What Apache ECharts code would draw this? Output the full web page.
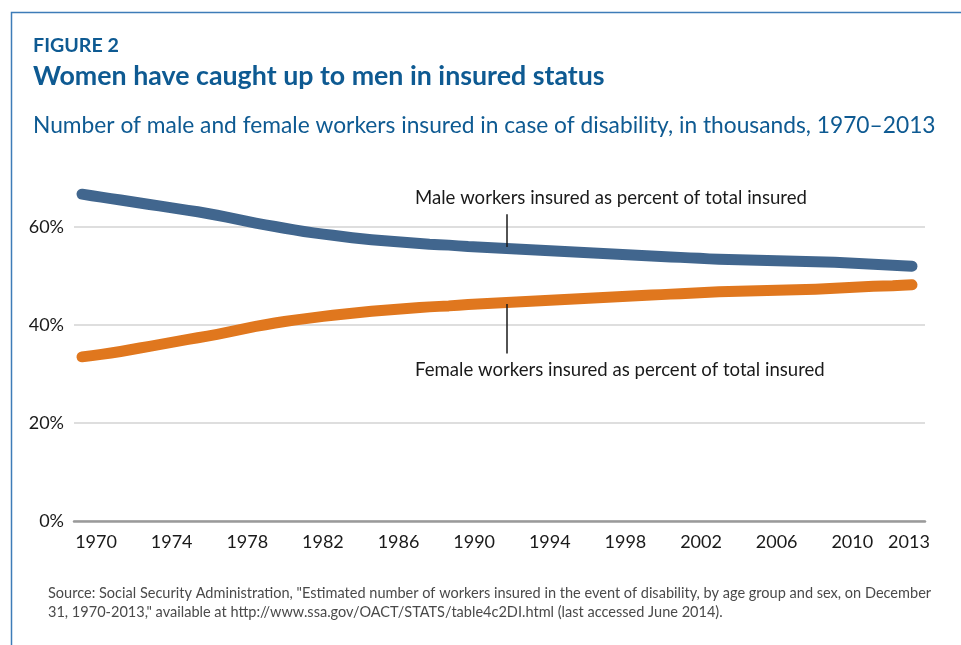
<!DOCTYPE html>
<html>
<head>
<meta charset="utf-8">
<style>
html,body{margin:0;padding:0;background:#fff;}
#chart{width:961px;height:645px;}
</style>
<script src="https://cdn.jsdelivr.net/npm/echarts@6/dist/echarts.min.js"></script>
</head>
<body>
<div id="chart"></div>
<script>
// ---- data ----
const years = [1970,1971,1972,1973,1974,1975,1976,1977,1978,1979,
               1980,1981,1982,1983,1984,1985,1986,1987,1988,1989,
               1990,1991,1992,1993,1994,1995,1996,1997,1998,1999,
               2000,2001,2002,2003,2004,2005,2006,2007,2008,2009,
               2010,2011,2012,2013];
const malePct = [66.7,66.1,65.5,64.9,64.3,63.7,63.1,62.4,61.6,60.8,
                 60.1,59.4,58.8,58.3,57.8,57.4,57.1,56.8,56.5,56.3,
                 56.0,55.8,55.6,55.4,55.2,55.0,54.8,54.6,54.4,54.2,
                 54.0,53.8,53.6,53.4,53.3,53.2,53.1,53.0,52.9,52.8,
                 52.6,52.4,52.2,52.0];
const femalePct = [33.5,34.0,34.6,35.3,36.0,36.7,37.4,38.1,38.9,39.7,
                   40.4,41.0,41.5,42.0,42.4,42.8,43.1,43.4,43.7,43.9,
                   44.2,44.4,44.6,44.8,45.0,45.2,45.4,45.6,45.8,46.0,
                   46.2,46.4,46.6,46.8,46.9,47.0,47.1,47.2,47.3,47.5,
                   47.7,47.9,48.0,48.2];
const xTickLabels = [1970,1974,1978,1982,1986,1990,1994,1998,2002,2006,2010,2013];
const yTicks = [0,20,40,60];
const annotationYear = 1992;

const figureLabel = 'FIGURE 2';
const titleText = 'Women have caught up to men in insured status';
const subtitleText = 'Number of male and female workers insured in case of disability, in thousands, 1970\u20132013';
const maleLabel = 'Male workers insured as percent of total insured';
const femaleLabel = 'Female workers insured as percent of total insured';
const sourceLine1 = 'Source: Social Security Administration, "Estimated number of workers insured in the event of disability, by age group and sex, on December';
const sourceLine2 = '31, 1970-2013," available at http://www.ssa.gov/OACT/STATS/table4c2DI.html (last accessed June 2014).';

// ---- helpers ----
const FAM = 'Lato, "Open Sans", sans-serif';
const mctx = document.createElement('canvas').getContext('2d');
function fit(text, weight, width){
  mctx.font = weight + ' 100px ' + FAM;
  return 100 * width / mctx.measureText(text).width;
}
const BLUE = '#0e5a92';
const MALE = '#41668e';
const FEMALE = '#e0771e';

const figSize = fit(figureLabel, 'bold', 86);
const titleSize = fit(titleText, 'bold', 572);
const subSize = fit(subtitleText, 'normal', 903);
const annSize = fit(maleLabel, 'normal', 392);
const srcSize = fit(sourceLine1, 'normal', 884);

function txt(x, y, text, size, weight, color){
  return {type:'text', x:x, y:y, silent:true,
    style:{text:text, fontSize:size, fontWeight:weight, fontFamily:FAM, fill:color,
           align:'left', verticalAlign:'middle', textAlign:'left', textVerticalAlign:'middle'}};
}

const chart = echarts.init(document.getElementById('chart'), null, {renderer:'canvas'});
const option = {
  animation:false,
  backgroundColor:'#ffffff',
  grid:{left:74, right:36, top:178, bottom:124, containLabel:false},
  xAxis:[
    {type:'value', min:1969.586, max:2013.674, show:false, position:'top'},
    {type:'value', min:1968.836, max:2013.847, position:'bottom',
     axisLine:{show:true, lineStyle:{color:'#9a9a9a', width:2.5}},
     axisTick:{show:false}, splitLine:{show:false},
     axisLabel:{customValues:xTickLabels, color:'#1a1a1a', fontSize:18, fontFamily:FAM, margin:12,
                formatter:function(v){return String(Math.round(v));}}}
  ],
  yAxis:{type:'value', min:0, max:70, interval:20,
    axisLine:{show:false}, axisTick:{show:false},
    axisLabel:{color:'#1a1a1a', fontSize:18, fontFamily:FAM, margin:10, showMaxLabel:false,
               formatter:function(v){return yTicks.indexOf(v) >= 0 ? v + '%' : '';}},
    splitLine:{show:true, showMaxLine:false, lineStyle:{color:'#d3d3d3', width:1.5}}
  },
  series:[
    {name:'Male', type:'line', xAxisIndex:0, data:years.map((y,i)=>[y, malePct[i]]),
     showSymbol:false, smooth:0.2, z:3,
     lineStyle:{color:MALE, width:11, cap:'round', join:'round'},
     markLine:{silent:true, symbol:['none','none'], label:{show:false},
       lineStyle:{color:'#1a1a1a', width:1.5, type:'solid'},
       data:[[{coord:[annotationYear, 62.6]},{coord:[annotationYear, 55.9]}]]}},
    {name:'Female', type:'line', xAxisIndex:0, data:years.map((y,i)=>[y, femalePct[i]]),
     showSymbol:false, smooth:0.2, z:3,
     lineStyle:{color:FEMALE, width:11, cap:'round', join:'round'},
     markLine:{silent:true, symbol:['none','none'], label:{show:false},
       lineStyle:{color:'#1a1a1a', width:1.5, type:'solid'},
       data:[[{coord:[annotationYear, 44.3]},{coord:[annotationYear, 34.2]}]]}}
  ],
  graphic:[
    {type:'polyline', silent:true, shape:{points:[[11.5,645],[11.5,12.5],[961,12.5]]},
     style:{stroke:'#3d7cb8', lineWidth:1.5, fill:null}},
    txt(33, 46, figureLabel, figSize, 'bold', BLUE),
    txt(33, 76, titleText, titleSize, 'bold', BLUE),
    txt(33, 126, subtitleText, subSize, 'normal', BLUE),
    txt(415, 198, maleLabel, annSize, 'normal', '#1a1a1a'),
    txt(415, 370, femaleLabel, annSize, 'normal', '#1a1a1a'),
    txt(48, 593, sourceLine1, srcSize, 'normal', '#4a4a4a'),
    txt(48, 612, sourceLine2, srcSize, 'normal', '#4a4a4a')
  ]
};
chart.setOption(option);
</script>
</body>
</html>
